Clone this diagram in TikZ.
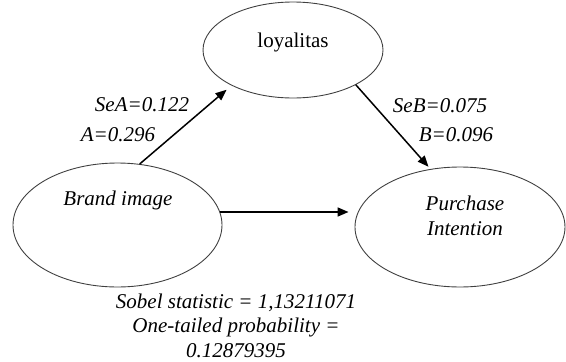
\documentclass[tikz,border=0pt]{standalone}
\usepackage{fontspec}
\setmainfont{Liberation Serif}
\usetikzlibrary{shapes.geometric,arrows.meta,calc}
\begin{document}
\begin{tikzpicture}[x=1pt,y=-1pt,
  oval/.style={ellipse,draw=black!75,line width=0.9pt,inner sep=0pt},
  txt/.style={inner sep=0pt,font=\fontsize{21}{25}\selectfont},
  itxt/.style={txt,font=\fontsize{21}{24.5}\selectfont\itshape},
  arr/.style={line width=1.5pt,-{Triangle[length=11pt,width=9pt]}}]
\useasboundingbox (0,0) rectangle (566,362);
\node[oval,minimum width=180pt,minimum height=96pt] (loy) at (293,50) {};
\node[oval,minimum width=209pt,minimum height=124pt] (brand) at (117.5,225) {};
\node[oval,minimum width=210pt,minimum height=120pt] (pur) at (460,227) {};
\node[txt] (loyt) at (293,42) {loyalitas};
\node[itxt] (brandt) at (118,200) {Brand image};
\node[itxt,align=center] (purt) at (465,216) {Purchase\\Intention};
\node[itxt] (sea) at (142,105) {SeA=0.122};
\node[itxt] (a) at (118,135) {A=0.296};
\node[itxt] (seb) at (440,106) {SeB=0.075};
\node[itxt] (b) at (456,135) {B=0.096};
\node[itxt,align=center] (sobel) at (236,325.5) {Sobel statistic = 1,13211071\\One-tailed probability =\\0.12879395};
\coordinate (hs) at ($(brand.center)+(102,-13)$);
\draw[arr,shorten >=6.5pt] (brand.70) -- (loy.210);
\draw[arr,shorten >=3pt] (loy.331) -- (pur.117);
\draw[arr,shorten >=6pt] (hs) -- (hs -| pur.west);
\end{tikzpicture}
\end{document}
